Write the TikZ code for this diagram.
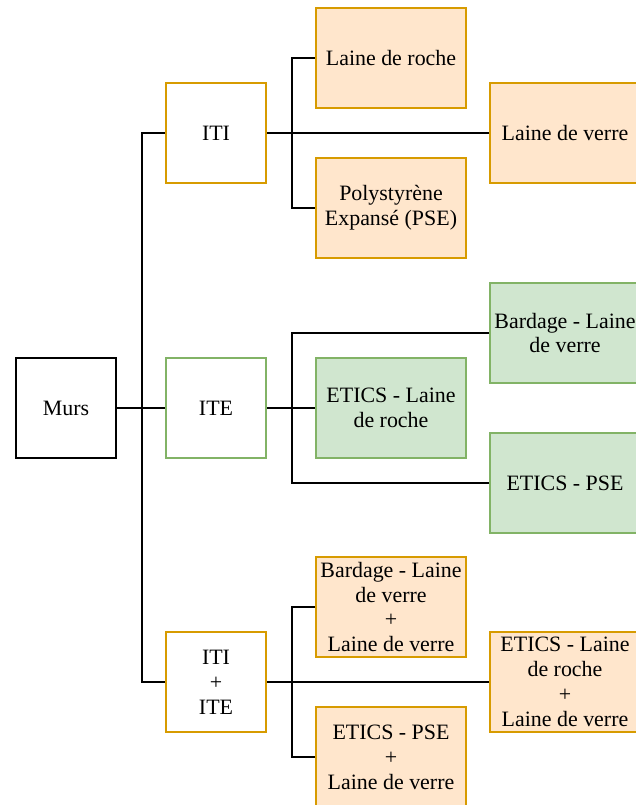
\documentclass[tikz,border=0pt]{standalone}
\usepackage{fontspec}
\setmainfont{Liberation Serif}
\usetikzlibrary{positioning}

\definecolor{orangefill}{HTML}{FFE6CC}
\definecolor{orangeline}{HTML}{D79B00}
\definecolor{greenfill}{HTML}{D0E6CF}
\definecolor{greenline}{HTML}{82B366}

\tikzset{
  box/.style={draw, line width=2.5bp, inner sep=0pt, align=center,
    font=\fontsize{22}{25}\selectfont},
  small/.style={box, minimum width=100bp, minimum height=100bp},
  wide/.style={box, minimum width=150bp, minimum height=100bp},
  iti/.style={small, draw=orangeline, fill=white},
  ite/.style={small, draw=greenline, fill=white},
  orangebox/.style={wide, draw=orangeline, fill=orangefill},
  greenbox/.style={wide, draw=greenline, fill=greenfill},
  link/.style={draw=black, line width=2.2bp}
}

\begin{document}
\begin{tikzpicture}[line cap=butt,line join=miter,x=1bp,y=-1bp]
        \clip (0,0) rectangle (636,805);
        \fill[white] (0,0) rectangle (636,805);
        % 
        \node[small, draw=black] (murs) at (66,408) {Murs};
        \node[iti] (iti) at (216,133) {ITI};
        \node[ite] (ite) at (216,408) {ITE};
        \node[iti] (itiite) at (216,682) {ITI\\+\\ITE};
        % 
        \node[orangebox] (roche) at (391,58) {Laine de roche};
        \node[orangebox] (verre) at (565,133) {Laine de verre};
        \node[orangebox] (pse) at (391,208) {Polystyrène\\Expansé (PSE)};
        % 
        \node[greenbox] (bardage) at (565,333) {Bardage - Laine\\de verre};
        \node[greenbox] (eticsroche) at (391,408) {ETICS - Laine\\de roche};
        \node[greenbox] (eticspse) at (565,483) {ETICS - PSE};
        % 
        \node[orangebox] (bardverre) at (391,607) {Bardage - Laine\\de verre\\+\\Laine de verre};
        \node[orangebox] (rocheverre) at (565,682) {ETICS - Laine\\de roche\\+\\Laine de verre};
        \node[orangebox] (pseverre) at (391,757) {ETICS - PSE\\+\\Laine de verre};
        % 
        \draw[link] (murs.east) -- ++(25,0) |- (iti.west);
        \draw[link] (murs.east) -- (ite.west);
        \draw[link] (murs.east) -- ++(25,0) |- (itiite.west);
        % 
        \draw[link] (iti.east) -- ++(25,0) |- (roche.west);
        \draw[link] (iti.east) -- (verre.west);
        \draw[link] (iti.east) -- ++(25,0) |- (pse.west);
        % 
        \draw[link] (ite.east) -- ++(25,0) |- (bardage.west);
        \draw[link] (ite.east) -- (eticsroche.west);
        \draw[link] (ite.east) -- ++(25,0) |- (eticspse.west);
        % 
        \draw[link] (itiite.east) -- ++(25,0) |- (bardverre.west);
        \draw[link] (itiite.east) -- (rocheverre.west);
        \draw[link] (itiite.east) -- ++(25,0) |- (pseverre.west);
      \end{tikzpicture}
\end{document}
